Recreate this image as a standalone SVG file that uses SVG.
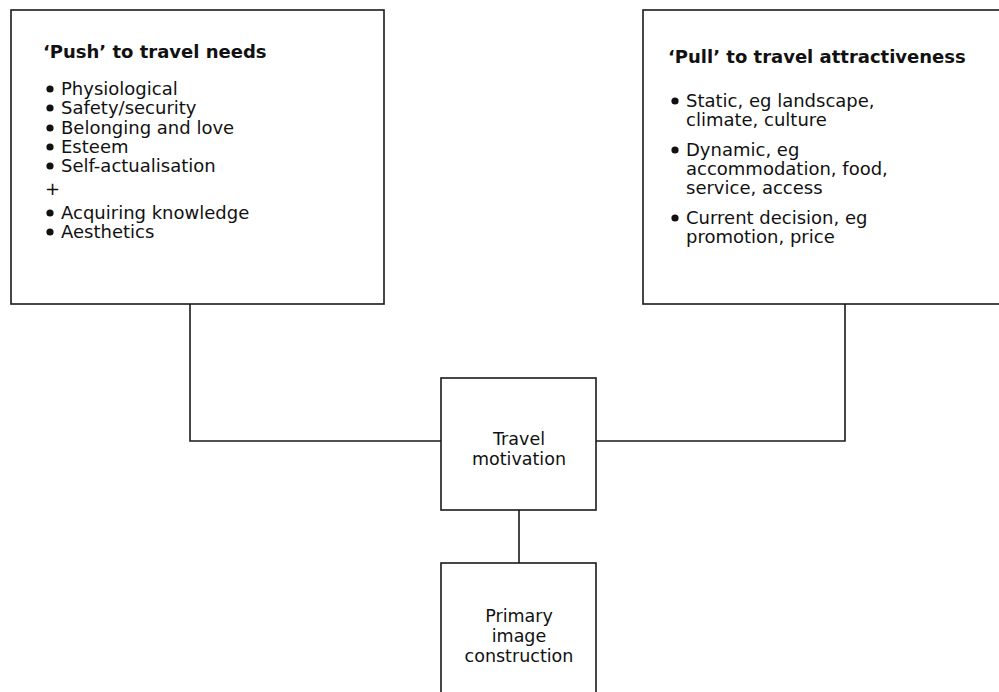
<svg xmlns="http://www.w3.org/2000/svg" width="999" height="692" viewBox="0 0 999 692">
<style>
.box{fill:#fff;stroke:#1a1a1a;stroke-width:1.6}
.con{fill:none;stroke:#1a1a1a;stroke-width:1.6}
text{font-family:"DejaVu Sans","Liberation Sans",sans-serif;font-size:18px;fill:#111}
.t{font-weight:bold;font-size:18px}
.c{text-anchor:middle;font-size:17.5px}
.b{fill:#111}
</style>
<rect width="999" height="692" fill="#fff"/>
<g id="connectors">
<polyline class="con" points="190,304 190,441 441,441"/>
<polyline class="con" points="845,304 845,441 596,441"/>
<line class="con" x1="519" y1="510" x2="519" y2="563"/>
</g>
<g id="push">
<rect class="box" x="11" y="10" width="373" height="294"/>
<text class="t" x="43" y="58">‘Push’ to travel needs</text>
<circle class="b" cx="50" cy="89" r="3.6"/><text x="61" y="95">Physiological</text>
<circle class="b" cx="50" cy="108" r="3.6"/><text x="61" y="114">Safety/security</text>
<circle class="b" cx="50" cy="128" r="3.6"/><text x="61" y="134">Belonging and love</text>
<circle class="b" cx="50" cy="147" r="3.6"/><text x="61" y="153">Esteem</text>
<circle class="b" cx="50" cy="166" r="3.6"/><text x="61" y="172">Self-actualisation</text>
<text x="45" y="195">+</text>
<circle class="b" cx="50" cy="213" r="3.6"/><text x="61" y="219">Acquiring knowledge</text>
<circle class="b" cx="50" cy="232" r="3.6"/><text x="61" y="238">Aesthetics</text>
</g>
<g id="pull">
<rect class="box" x="643" y="10" width="370" height="294"/>
<text class="t" x="668" y="63">‘Pull’ to travel attractiveness</text>
<circle class="b" cx="675" cy="101" r="3.6"/><text x="686" y="107">Static, eg landscape,</text>
<text x="686" y="126">climate, culture</text>
<circle class="b" cx="675" cy="150" r="3.6"/><text x="686" y="156">Dynamic, eg</text>
<text x="686" y="175">accommodation, food,</text>
<text x="686" y="194">service, access</text>
<circle class="b" cx="675" cy="218" r="3.6"/><text x="686" y="224">Current decision, eg</text>
<text x="686" y="243">promotion, price</text>
</g>
<g id="motivation">
<rect class="box" x="441" y="378" width="155" height="132"/>
<text class="c" x="519" y="445">Travel</text>
<text class="c" x="519" y="465">motivation</text>
</g>
<g id="primary">
<rect class="box" x="441" y="563" width="155" height="140"/>
<text class="c" x="519" y="622">Primary</text>
<text class="c" x="519" y="642">image</text>
<text class="c" x="519" y="662">construction</text>
</g>
</svg>
